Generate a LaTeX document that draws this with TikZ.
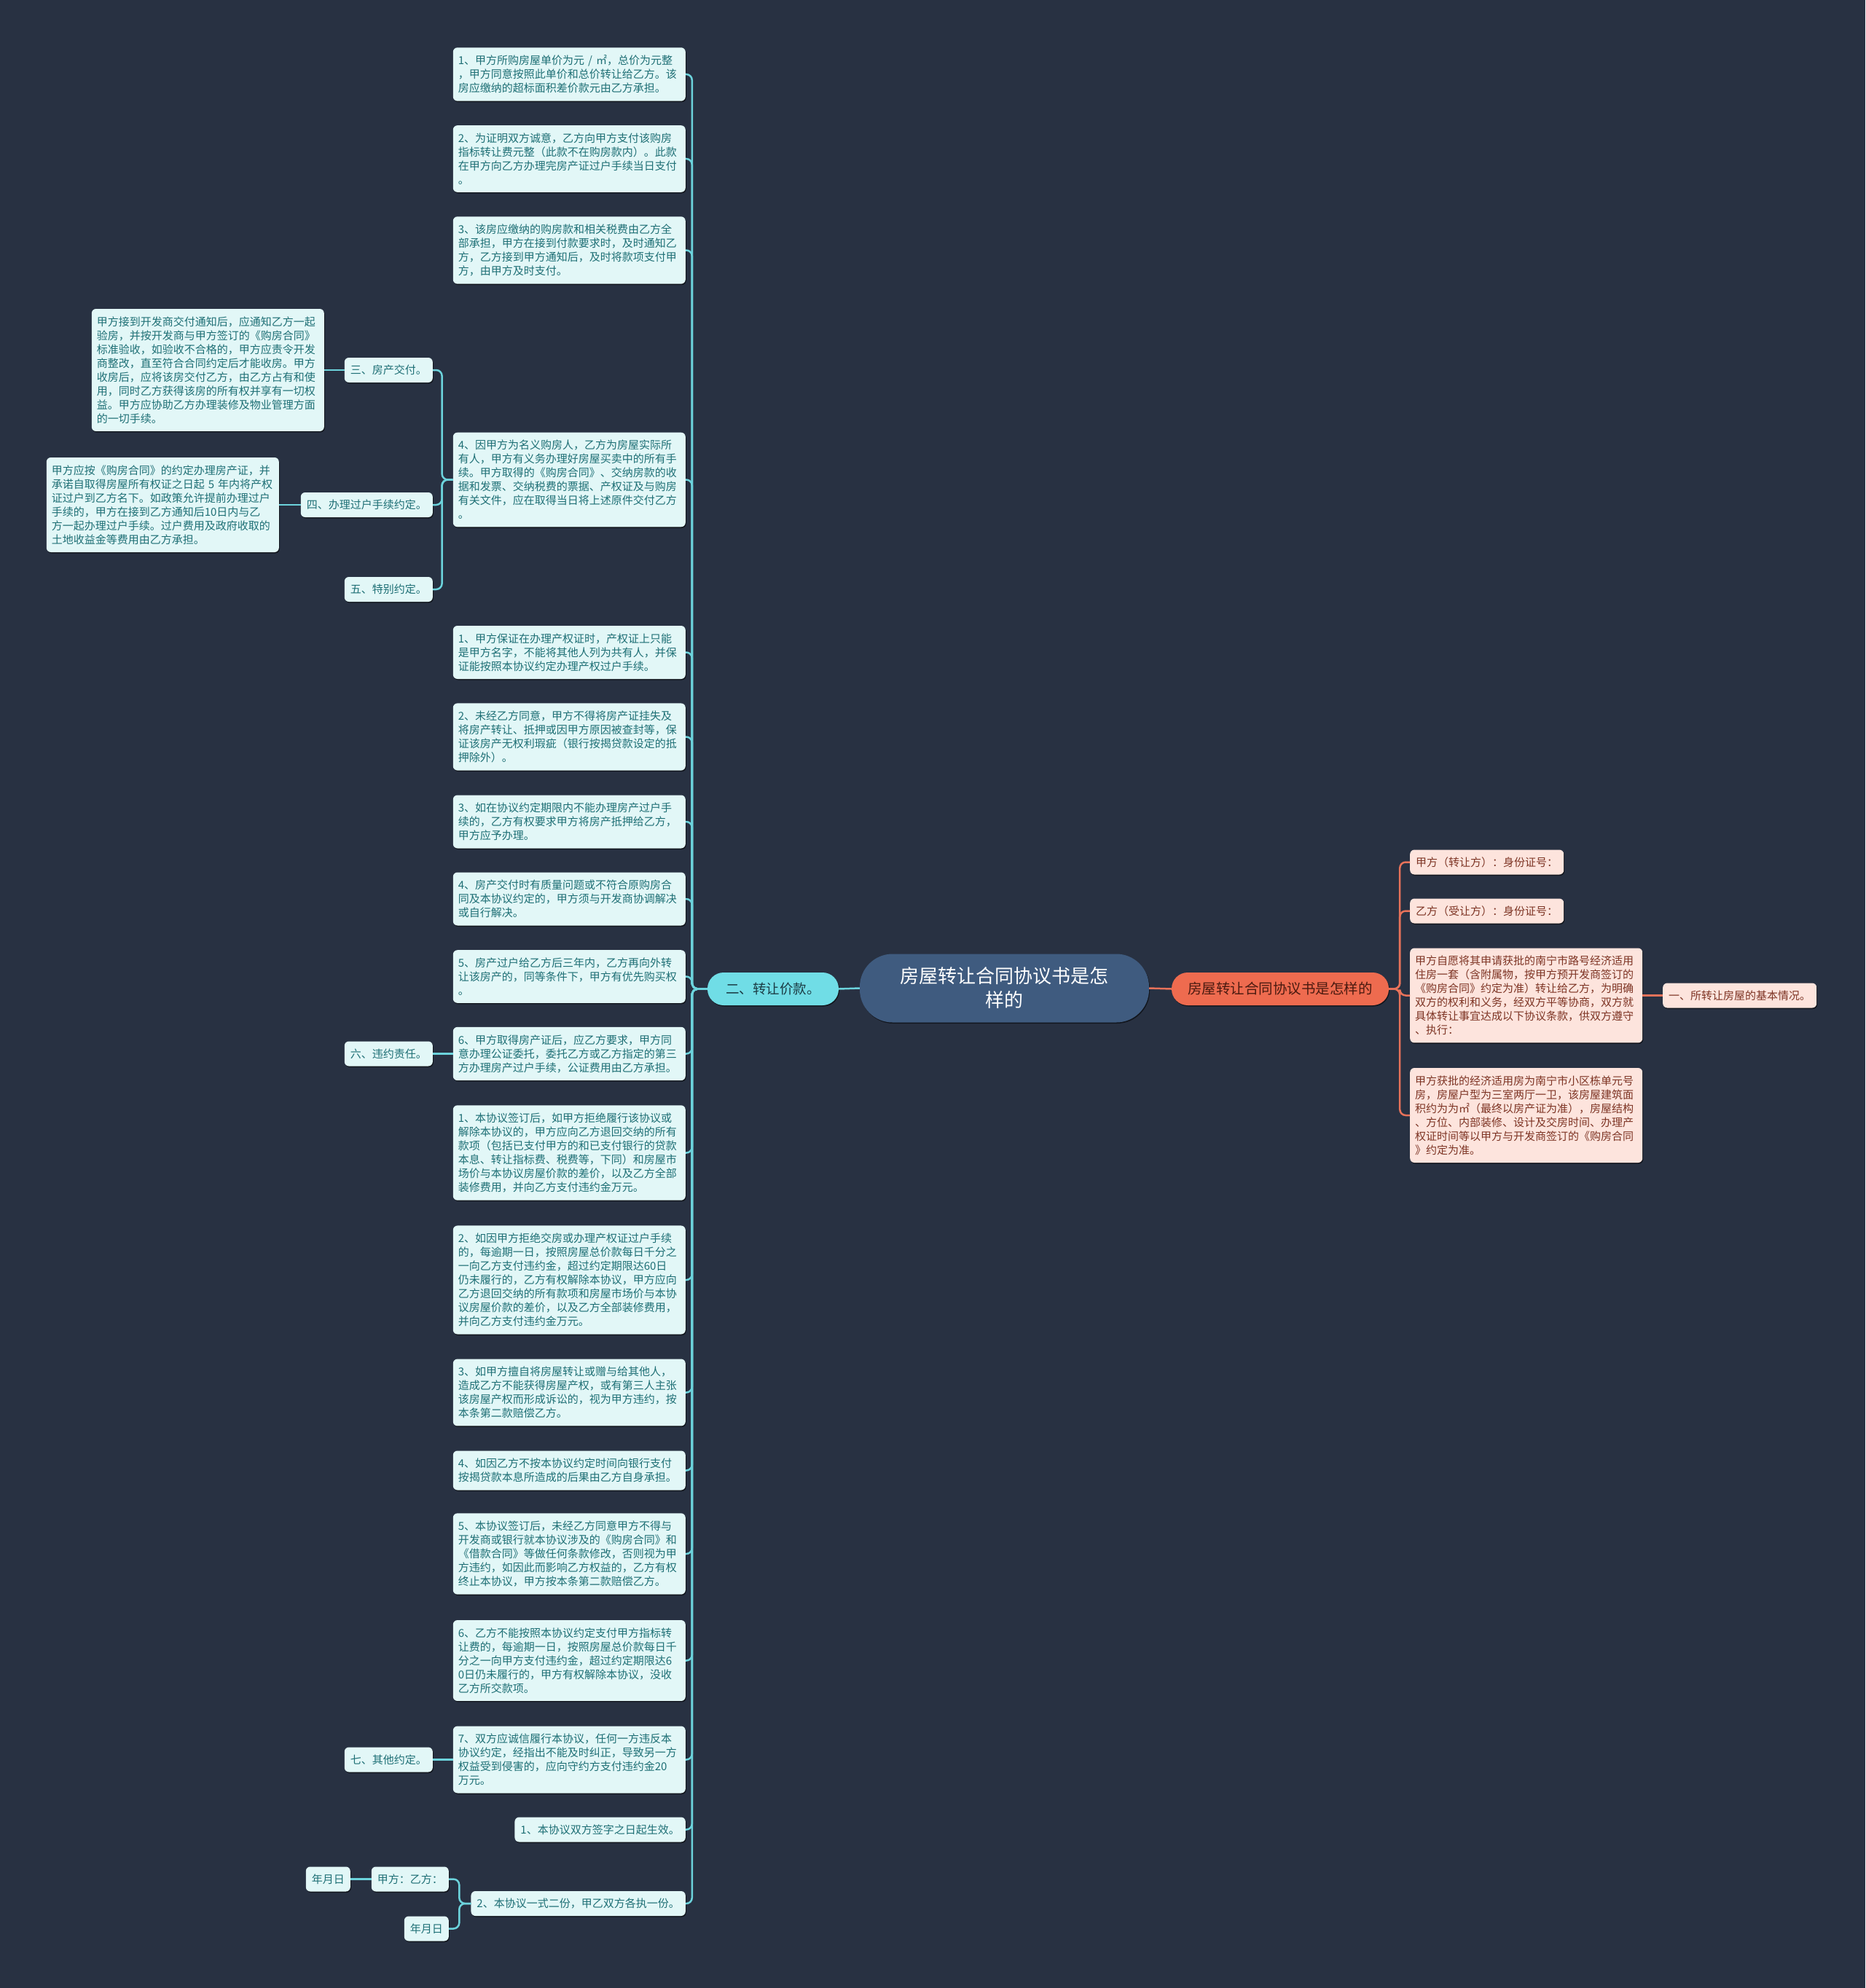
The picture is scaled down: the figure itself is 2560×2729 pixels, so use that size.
\documentclass[tikz,border=0pt]{standalone}
\usepackage{fontspec}
\setmainfont{Noto Sans CJK SC}
\usetikzlibrary{shadows}
\definecolor{bg}{HTML}{283142}
\definecolor{cardfill}{HTML}{E2F7F7}
\definecolor{cardtext}{HTML}{1E6F75}
\definecolor{cyanline}{HTML}{6CD3DC}
\definecolor{lmainfill}{HTML}{70DDE6}
\definecolor{lmaintext}{HTML}{1B3B44}
\definecolor{rootfill}{HTML}{3F5B7F}
\definecolor{rmainfill}{HTML}{EE6B4F}
\definecolor{rmaintext}{HTML}{4A1A10}
\definecolor{rcardfill}{HTML}{FDE4DD}
\definecolor{rcardtext}{HTML}{7D3424}
\definecolor{coralline}{HTML}{E8725A}
\begin{document}
\begin{tikzpicture}[x=1pt,y=-1pt,
  shad/.style={drop shadow={shadow xshift=1pt,shadow yshift=-1.5pt,opacity=0.55,fill=black}},
  card/.style={shad,fill=cardfill,text=cardtext,rounded corners=6pt,
    font=\fontsize{15}{19}\selectfont,text width=305pt,align=left,
    inner xsep=7pt,inner ysep=10.5pt},
  lab/.style={shad,fill=cardfill,text=cardtext,rounded corners=6pt,
    font=\fontsize{15}{19}\selectfont,minimum height=34pt,inner xsep=8pt,inner ysep=0pt},
  rcard/.style={card,fill=rcardfill,text=rcardtext},
  rlab/.style={lab,fill=rcardfill,text=rcardtext},
  cline/.style={draw=cyanline,line width=2.5pt,rounded corners=8pt},
  rline/.style={draw=coralline,line width=2.5pt,rounded corners=8pt}]
\useasboundingbox (0,0) rectangle (2560,2729);
\fill[bg] (0,0) rectangle (2560,2729);

% central nodes
\node[shad,fill=rootfill,text=white,rounded corners=45pt,minimum width=397pt,minimum height=94pt,
  font=\fontsize{26}{33}\selectfont,align=center] (root) at (1378.5,1356.5) {房屋转让合同协议书是怎\\样的};
\node[shad,fill=lmainfill,text=lmaintext,rounded corners=22pt,minimum width=180pt,minimum height=45pt,
  font=\fontsize{18.5}{22}\selectfont] (lm) at (1061,1357.5) {二、转让价款。};
\node[shad,fill=rmainfill,text=rmaintext,rounded corners=22pt,minimum width=298pt,minimum height=45pt,
  font=\fontsize{19.5}{23}\selectfont] (rm) at (1757,1357.5) {房屋转让合同协议书是怎样的};

% middle column cards
\node[card,anchor=east] (a1) at (941,102) {1、甲方所购房屋单价为元 / ㎡，总价为元整\\，甲方同意按照此单价和总价转让给乙方。该\\房应缴纳的超标面积差价款元由乙方承担。};
\node[card,anchor=east] (a2) at (941,218) {2、为证明双方诚意，乙方向甲方支付该购房\\指标转让费元整（此款不在购房款内）。此款\\在甲方向乙方办理完房产证过户手续当日支付\\。};
\node[card,anchor=east] (a3) at (941,343.5) {3、该房应缴纳的购房款和相关税费由乙方全\\部承担，甲方在接到付款要求时，及时通知乙\\方，乙方接到甲方通知后，及时将款项支付甲\\方，由甲方及时支付。};
\node[card,anchor=east] (a4) at (941,658.5) {4、因甲方为名义购房人，乙方为房屋实际所\\有人，甲方有义务办理好房屋买卖中的所有手\\续。甲方取得的《购房合同》、交纳房款的收\\据和发票、交纳税费的票据、产权证及与购房\\有关文件，应在取得当日将上述原件交付乙方\\。};
\node[card,anchor=east] (b1) at (941,895.5) {1、甲方保证在办理产权证时，产权证上只能\\是甲方名字，不能将其他人列为共有人，并保\\证能按照本协议约定办理产权过户手续。};
\node[card,anchor=east] (b2) at (941,1011.5) {2、未经乙方同意，甲方不得将房产证挂失及\\将房产转让、抵押或因甲方原因被查封等，保\\证该房产无权利瑕疵（银行按揭贷款设定的抵\\押除外）。};
\node[card,anchor=east] (b3) at (941,1128) {3、如在协议约定期限内不能办理房产过户手\\续的，乙方有权要求甲方将房产抵押给乙方，\\甲方应予办理。};
\node[card,anchor=east] (b4) at (941,1234) {4、房产交付时有质量问题或不符合原购房合\\同及本协议约定的，甲方须与开发商协调解决\\或自行解决。};
\node[card,anchor=east] (b5) at (941,1340.5) {5、房产过户给乙方后三年内，乙方再向外转\\让该房产的，同等条件下，甲方有优先购买权\\。};
\node[card,anchor=east] (b6) at (941,1446.5) {6、甲方取得房产证后，应乙方要求，甲方同\\意办理公证委托，委托乙方或乙方指定的第三\\方办理房产过户手续，公证费用由乙方承担。};
\node[card,anchor=east] (c1) at (941,1582.5) {1、本协议签订后，如甲方拒绝履行该协议或\\解除本协议的，甲方应向乙方退回交纳的所有\\款项（包括已支付甲方的和已支付银行的贷款\\本息、转让指标费、税费等，下同）和房屋市\\场价与本协议房屋价款的差价，以及乙方全部\\装修费用，并向乙方支付违约金万元。};
\node[card,anchor=east] (c2) at (941,1757) {2、如因甲方拒绝交房或办理产权证过户手续\\的，每逾期一日，按照房屋总价款每日千分之\\一向乙方支付违约金，超过约定期限达60日\\仍未履行的，乙方有权解除本协议，甲方应向\\乙方退回交纳的所有款项和房屋市场价与本协\\议房屋价款的差价，以及乙方全部装修费用，\\并向乙方支付违约金万元。};
\node[card,anchor=east] (c3) at (941,1911.5) {3、如甲方擅自将房屋转让或赠与给其他人，\\造成乙方不能获得房屋产权，或有第三人主张\\该房屋产权而形成诉讼的，视为甲方违约，按\\本条第二款赔偿乙方。};
\node[card,anchor=east] (c4) at (941,2018.5) {4、如因乙方不按本协议约定时间向银行支付\\按揭贷款本息所造成的后果由乙方自身承担。};
\node[card,anchor=east] (c5) at (941,2133) {5、本协议签订后，未经乙方同意甲方不得与\\开发商或银行就本协议涉及的《购房合同》和\\《借款合同》等做任何条款修改，否则视为甲\\方违约，如因此而影响乙方权益的，乙方有权\\终止本协议，甲方按本条第二款赔偿乙方。};
\node[card,anchor=east] (c6) at (941,2279.5) {6、乙方不能按照本协议约定支付甲方指标转\\让费的，每逾期一日，按照房屋总价款每日千\\分之一向甲方支付违约金，超过约定期限达6\\0日仍未履行的，甲方有权解除本协议，没收\\乙方所交款项。};
\node[card,anchor=east] (c7) at (941,2415.5) {7、双方应诚信履行本协议，任何一方违反本\\协议约定，经指出不能及时纠正，导致另一方\\权益受到侵害的，应向守约方支付违约金20\\万元。};
\node[lab,anchor=east] (d1) at (941,2511.5) {1、本协议双方签字之日起生效。};
\node[lab,anchor=east] (d2) at (941,2613) {2、本协议一式二份，甲乙双方各执一份。};

% left side
\node[lab,anchor=east] (s3) at (594,508) {三、房产交付。};
\node[card,anchor=east] (s3c) at (445,508) {甲方接到开发商交付通知后，应通知乙方一起\\验房，并按开发商与甲方签订的《购房合同》\\标准验收，如验收不合格的，甲方应责令开发\\商整改，直至符合合同约定后才能收房。甲方\\收房后，应将该房交付乙方，由乙方占有和使\\用，同时乙方获得该房的所有权并享有一切权\\益。甲方应协助乙方办理装修及物业管理方面\\的一切手续。};
\node[lab,anchor=east] (s4) at (594,693) {四、办理过户手续约定。};
\node[card,anchor=east] (s4c) at (383,693) {甲方应按《购房合同》的约定办理房产证，并\\承诺自取得房屋所有权证之日起 5 年内将产权\\证过户到乙方名下。如政策允许提前办理过户\\手续的，甲方在接到乙方通知后10日内与乙\\方一起办理过户手续。过户费用及政府收取的\\土地收益金等费用由乙方承担。};
\node[lab,anchor=east] (s5) at (594,809) {五、特别约定。};
\node[lab,anchor=east] (s6) at (594,1446.5) {六、违约责任。};
\node[lab,anchor=east] (s7) at (594,2415.5) {七、其他约定。};
\node[lab,anchor=east] (sig) at (616,2579.5) {甲方：乙方：};
\node[lab,anchor=east] (date1) at (481,2579.5) {年月日};
\node[lab,anchor=east] (date2) at (616,2647.5) {年月日};

% right side
\node[rlab,anchor=west] (r1) at (1935,1183.5) {甲方（转让方）：身份证号：};
\node[rlab,anchor=west] (r2) at (1935,1250.5) {乙方（受让方）：身份证号：};
\node[rcard,anchor=west] (r3) at (1935,1366.5) {甲方自愿将其申请获批的南宁市路号经济适用\\住房一套（含附属物，按甲方预开发商签订的\\《购房合同》约定为准）转让给乙方，为明确\\双方的权利和义务，经双方平等协商，双方就\\具体转让事宜达成以下协议条款，供双方遵守\\、执行：};
\node[rcard,anchor=west] (r4) at (1935,1531) {甲方获批的经济适用房为南宁市小区栋单元号\\房，房屋户型为三室两厅一卫，该房屋建筑面\\积约为为㎡（最终以房产证为准），房屋结构\\、方位、内部装修、设计及交房时间、办理产\\权证时间等以甲方与开发商签订的《购房合同\\》约定为准。};
\node[rlab,anchor=west] (r5) at (2282,1366.5) {一、所转让房屋的基本情况。};

% connectors
\draw[cline] (root.west) -- (lm.east);
\draw[rline] (root.east) -- (rm.west);
\foreach \c in {a1,a2,a3,a4,b1,b2,b3,b4,b5,b6,c1,c2,c3,c4,c5,c6,c7,d1,d2}
  \draw[cline] (lm.west) -- ++(-21,0) |- (\c.east);
\foreach \c in {s3,s4,s5}
  \draw[cline] (a4.west) -- ++(-15,0) |- (\c.east);
\draw[cline] (s3.west) -- (s3c.east);
\draw[cline] (s4.west) -- (s4c.east);
\draw[cline] (b6.west) -- (s6.east);
\draw[cline] (c7.west) -- (s7.east);
\foreach \c in {sig,date2}
  \draw[cline] (d2.west) -- ++(-16,0) |- (\c.east);
\draw[cline] (sig.west) -- (date1.east);
\foreach \c in {r1,r2,r3,r4}
  \draw[rline] (rm.east) -- ++(15,0) |- (\c.west);
\draw[rline] (r3.east) -- (r5.west);
\end{tikzpicture}
\end{document}
